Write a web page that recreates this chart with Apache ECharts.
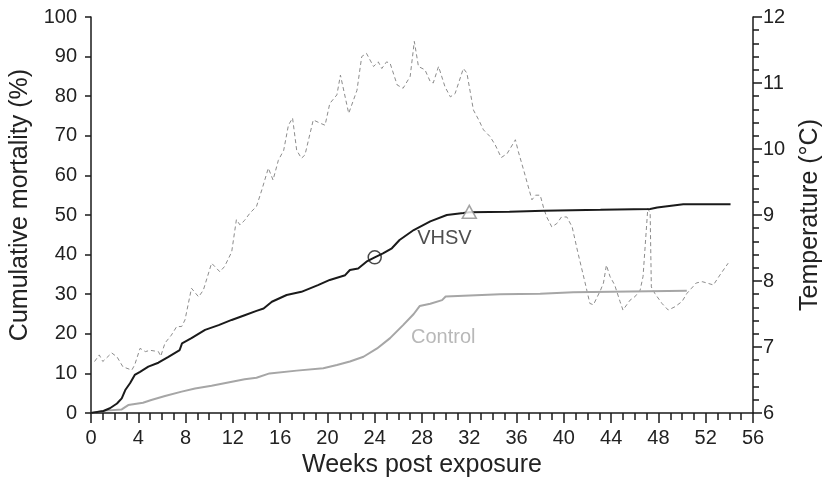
<!DOCTYPE html>
<html>
<head>
<meta charset="utf-8">
<script src="https://cdn.jsdelivr.net/npm/echarts@6/dist/echarts.min.js"></script>
<style>
    html, body { margin: 0; padding: 0; background: #fff; }
    #container { width: 833px; height: 481px; }
</style>
</head>
<body>
<div id="container"></div>
<script>
// weeks post exposure / cumulative mortality (%), VHSV group
const vhsvWeeks = [0, 1.05, 1.6, 2.2, 2.6, 2.9, 3.3, 3.7, 4.15, 4.85, 5.7, 6.55, 7.5, 7.7, 8.5, 9.65, 10.8, 11.9, 13, 14,
    14.6, 15.3, 16.55, 17.8, 19.2, 20.2, 21.5, 21.9, 22.6, 23.3, 24, 24.7, 25.45, 26.1, 27.3, 28.7, 30.1, 31.5, 32, 35.4,
    38.3, 43.1, 47.3, 47.9, 50.1, 54.1];
const vhsvMortality = [0, 0.5, 1.2, 2.4, 3.7, 5.8, 7.5, 9.6, 10.4, 11.7, 12.7, 14.2, 15.9, 17.6, 18.9, 21, 22.2, 23.5, 24.7, 25.8,
    26.4, 28.1, 29.8, 30.6, 32.3, 33.6, 34.8, 36.1, 36.5, 38.2, 39.3, 40.3, 41.6, 43.7, 46.2, 48.4, 50, 50.5, 50.7, 50.8,
    51.1, 51.3, 51.5, 51.9, 52.7, 52.7];

// control group
const controlWeeks = [0, 1.2, 2.6, 3.15, 4.4, 5.1, 6.26, 7.67, 8.8, 10.2, 11.6, 13, 14, 15.1, 17.4, 19.65, 20.8, 21.9, 23.05, 24.2,
    25.3, 26.4, 27.3, 27.8, 28.7, 29.7, 30, 34.6, 38, 40.8, 50.4];
const controlMortality = [0, 0.6, 0.9, 2, 2.6, 3.3, 4.3, 5.4, 6.2, 6.9, 7.7, 8.5, 8.9, 10, 10.7, 11.3, 12.1, 13, 14.2, 16.3,
    18.9, 22.2, 25, 27, 27.6, 28.5, 29.4, 30, 30.1, 30.5, 30.9];

// water temperature (°C)
const tempWeeks = [0.3, 0.7, 1, 1.75, 2.2, 2.7, 3.45, 3.7, 4.15, 4.6, 5, 5.7, 5.9, 6.26, 6.8, 7.25, 7.67, 7.95, 8.5, 9.1,
    9.5, 10.2, 10.9, 11.3, 11.9, 12.3, 12.6, 13, 13.45, 14, 14.45, 15, 15.4, 15.85, 16.3, 16.7, 17.05, 17.4, 17.8, 18.1,
    18.8, 19.4, 19.8, 20.2, 20.8, 21.1, 21.8, 22.5, 22.9, 23.3, 23.9, 24.3, 24.6, 25, 25.3, 25.9, 26.4, 27, 27.35, 27.7,
    28.25, 28.7, 28.95, 29.4, 29.95, 30.4, 30.8, 31.5, 31.8, 32.35, 32.8, 33.2, 33.75, 34.2, 34.7, 35.2, 35.9, 36.15, 36.6, 37.3,
    37.6, 38, 38.3, 38.55, 38.98, 39.4, 39.8, 40.25, 40.7, 41.2, 41.8, 42.2, 42.5, 43.1, 43.35, 43.6, 43.9, 44.3, 44.75, 45,
    45.6, 46, 46.45, 46.7, 47.1, 47.3, 47.4, 47.7, 48.3, 48.83, 49.4, 50, 50.4, 50.8, 51.2, 51.7, 52.1, 52.65, 53.2, 53.9];
const tempValues = [6.78, 6.88, 6.78, 6.91, 6.85, 6.7, 6.65, 6.73, 6.98, 6.93, 6.95, 6.93, 6.86, 7.06, 7.18, 7.31, 7.31, 7.41, 7.89, 7.76,
    7.86, 8.27, 8.14, 8.22, 8.44, 8.93, 8.85, 8.92, 9.03, 9.13, 9.38, 9.71, 9.53, 9.83, 9.98, 10.36, 10.47, 9.98, 9.86, 9.91,
    10.44, 10.39, 10.36, 10.69, 10.82, 11.12, 10.54, 10.89, 11.4, 11.45, 11.25, 11.32, 11.22, 11.32, 11.3, 10.97, 10.92, 11.1, 11.63, 11.25,
    11.2, 11.02, 11, 11.25, 10.94, 10.79, 10.84, 11.22, 11.15, 10.59, 10.44, 10.29, 10.19, 10.06, 9.87, 9.93, 10.14, 9.96, 9.68, 9.23,
    9.3, 9.3, 9.1, 8.97, 8.82, 8.87, 8.97, 8.97, 8.82, 8.42, 7.97, 7.66, 7.64, 7.86, 7.97, 8.24, 8.07, 7.94, 7.69, 7.56,
    7.71, 7.76, 7.86, 8.07, 9.1, 9.03, 7.91, 7.81, 7.66, 7.56, 7.61, 7.69, 7.81, 7.89, 7.97, 7.99, 7.97, 7.94, 8.09, 8.27];

// markers on the VHSV curve and the curve labels
const circleMarker = [24, 39.3];
const triangleMarker = [32, 50.8];
const vhsvLabelAt = [29.9, 44.1];
const controlLabelAt = [29.8, 19.1];

const FONT = 'Liberation Sans, Arial, sans-serif';

function zip(xs, ys) {
    return xs.map((x, i) => [x, ys[i]]);
}

function main() {
    const myChart = echarts.init(document.getElementById('container'));

    const axisLine = { show: true, lineStyle: { color: '#1a1a1a', width: 1.5 } };
    const tickLabel = { color: '#222', fontSize: 20, fontFamily: FONT };
    const axisName = { color: '#222', fontSize: 25, fontFamily: FONT };

    const option = {
        backgroundColor: '#fff',
        animation: false,
        grid: { left: 91, right: 80, top: 17, bottom: 68, outerBoundsMode: 'none' },
        xAxis: {
            type: 'value',
            min: 0,
            max: 56,
            interval: 4,
            name: 'Weeks post exposure',
            nameLocation: 'middle',
            nameGap: 40,
            nameTextStyle: axisName,
            axisLine: axisLine,
            axisTick: { show: true, length: 10, lineStyle: { color: '#1a1a1a', width: 1.5 } },
            minorTick: { show: true, splitNumber: 4, length: 7, lineStyle: { color: '#1a1a1a', width: 1.5 } },
            axisLabel: Object.assign({ margin: 15 }, tickLabel),
            splitLine: { show: false }
        },
        yAxis: [{
            type: 'value',
            min: 0,
            max: 100,
            interval: 10,
            name: 'Cumulative mortality (%)',
            nameLocation: 'middle',
            nameRotate: 90,
            nameGap: 51,
            nameTextStyle: Object.assign({ padding: [0, 0, 0, 20] }, axisName),
            axisLine: axisLine,
            axisTick: { show: true, length: 6, lineStyle: { color: '#1a1a1a', width: 1.5 } },
            axisLabel: Object.assign({ margin: 14 }, tickLabel),
            splitLine: { show: false }
        }, {
            type: 'value',
            position: 'right',
            min: 6,
            max: 12,
            interval: 1,
            name: 'Temperature (°C)',
            nameLocation: 'middle',
            nameRotate: 90,
            nameGap: 45,
            nameTextStyle: axisName,
            axisLine: axisLine,
            axisTick: { show: true, length: 9, lineStyle: { color: '#1a1a1a', width: 1.5 } },
            minorTick: { show: true, splitNumber: 5, length: 6, lineStyle: { color: '#1a1a1a', width: 1.5 } },
            axisLabel: Object.assign({ margin: 10 }, tickLabel),
            splitLine: { show: false }
        }],
        series: [{
            name: 'Temperature',
            type: 'line',
            yAxisIndex: 1,
            showSymbol: false,
            data: zip(tempWeeks, tempValues),
            lineStyle: { color: '#8c8c8c', width: 1, type: [4, 3] },
            z: 1
        }, {
            name: 'Control',
            type: 'line',
            showSymbol: false,
            data: zip(controlWeeks, controlMortality),
            lineStyle: { color: '#a6a6a6', width: 2 },
            z: 2
        }, {
            name: 'VHSV',
            type: 'line',
            showSymbol: false,
            data: zip(vhsvWeeks, vhsvMortality),
            lineStyle: { color: '#1a1a1a', width: 2 },
            z: 3
        }, {
            // hollow circle marker
            type: 'scatter',
            symbol: 'circle',
            symbolSize: 13,
            data: [circleMarker],
            itemStyle: { color: 'rgba(0,0,0,0)', borderColor: '#1a1a1a', borderWidth: 1.5 },
            z: 4
        }, {
            // hollow triangle marker
            type: 'scatter',
            symbol: 'triangle',
            symbolSize: [14, 13],
            data: [triangleMarker],
            itemStyle: { color: '#fff', borderColor: '#8c8c8c', borderWidth: 1.5 },
            z: 4
        }, {
            // curve labels
            type: 'scatter',
            symbolSize: 0,
            silent: true,
            data: [
                { value: vhsvLabelAt, label: { formatter: 'VHSV', color: '#222' } },
                { value: controlLabelAt, label: { formatter: 'Control', color: '#a6a6a6' } }
            ],
            label: { show: true, position: 'inside', fontSize: 20, fontFamily: FONT },
            z: 5
        }]
    };

    myChart.setOption(option);
}

main();
</script>
</body>
</html>
